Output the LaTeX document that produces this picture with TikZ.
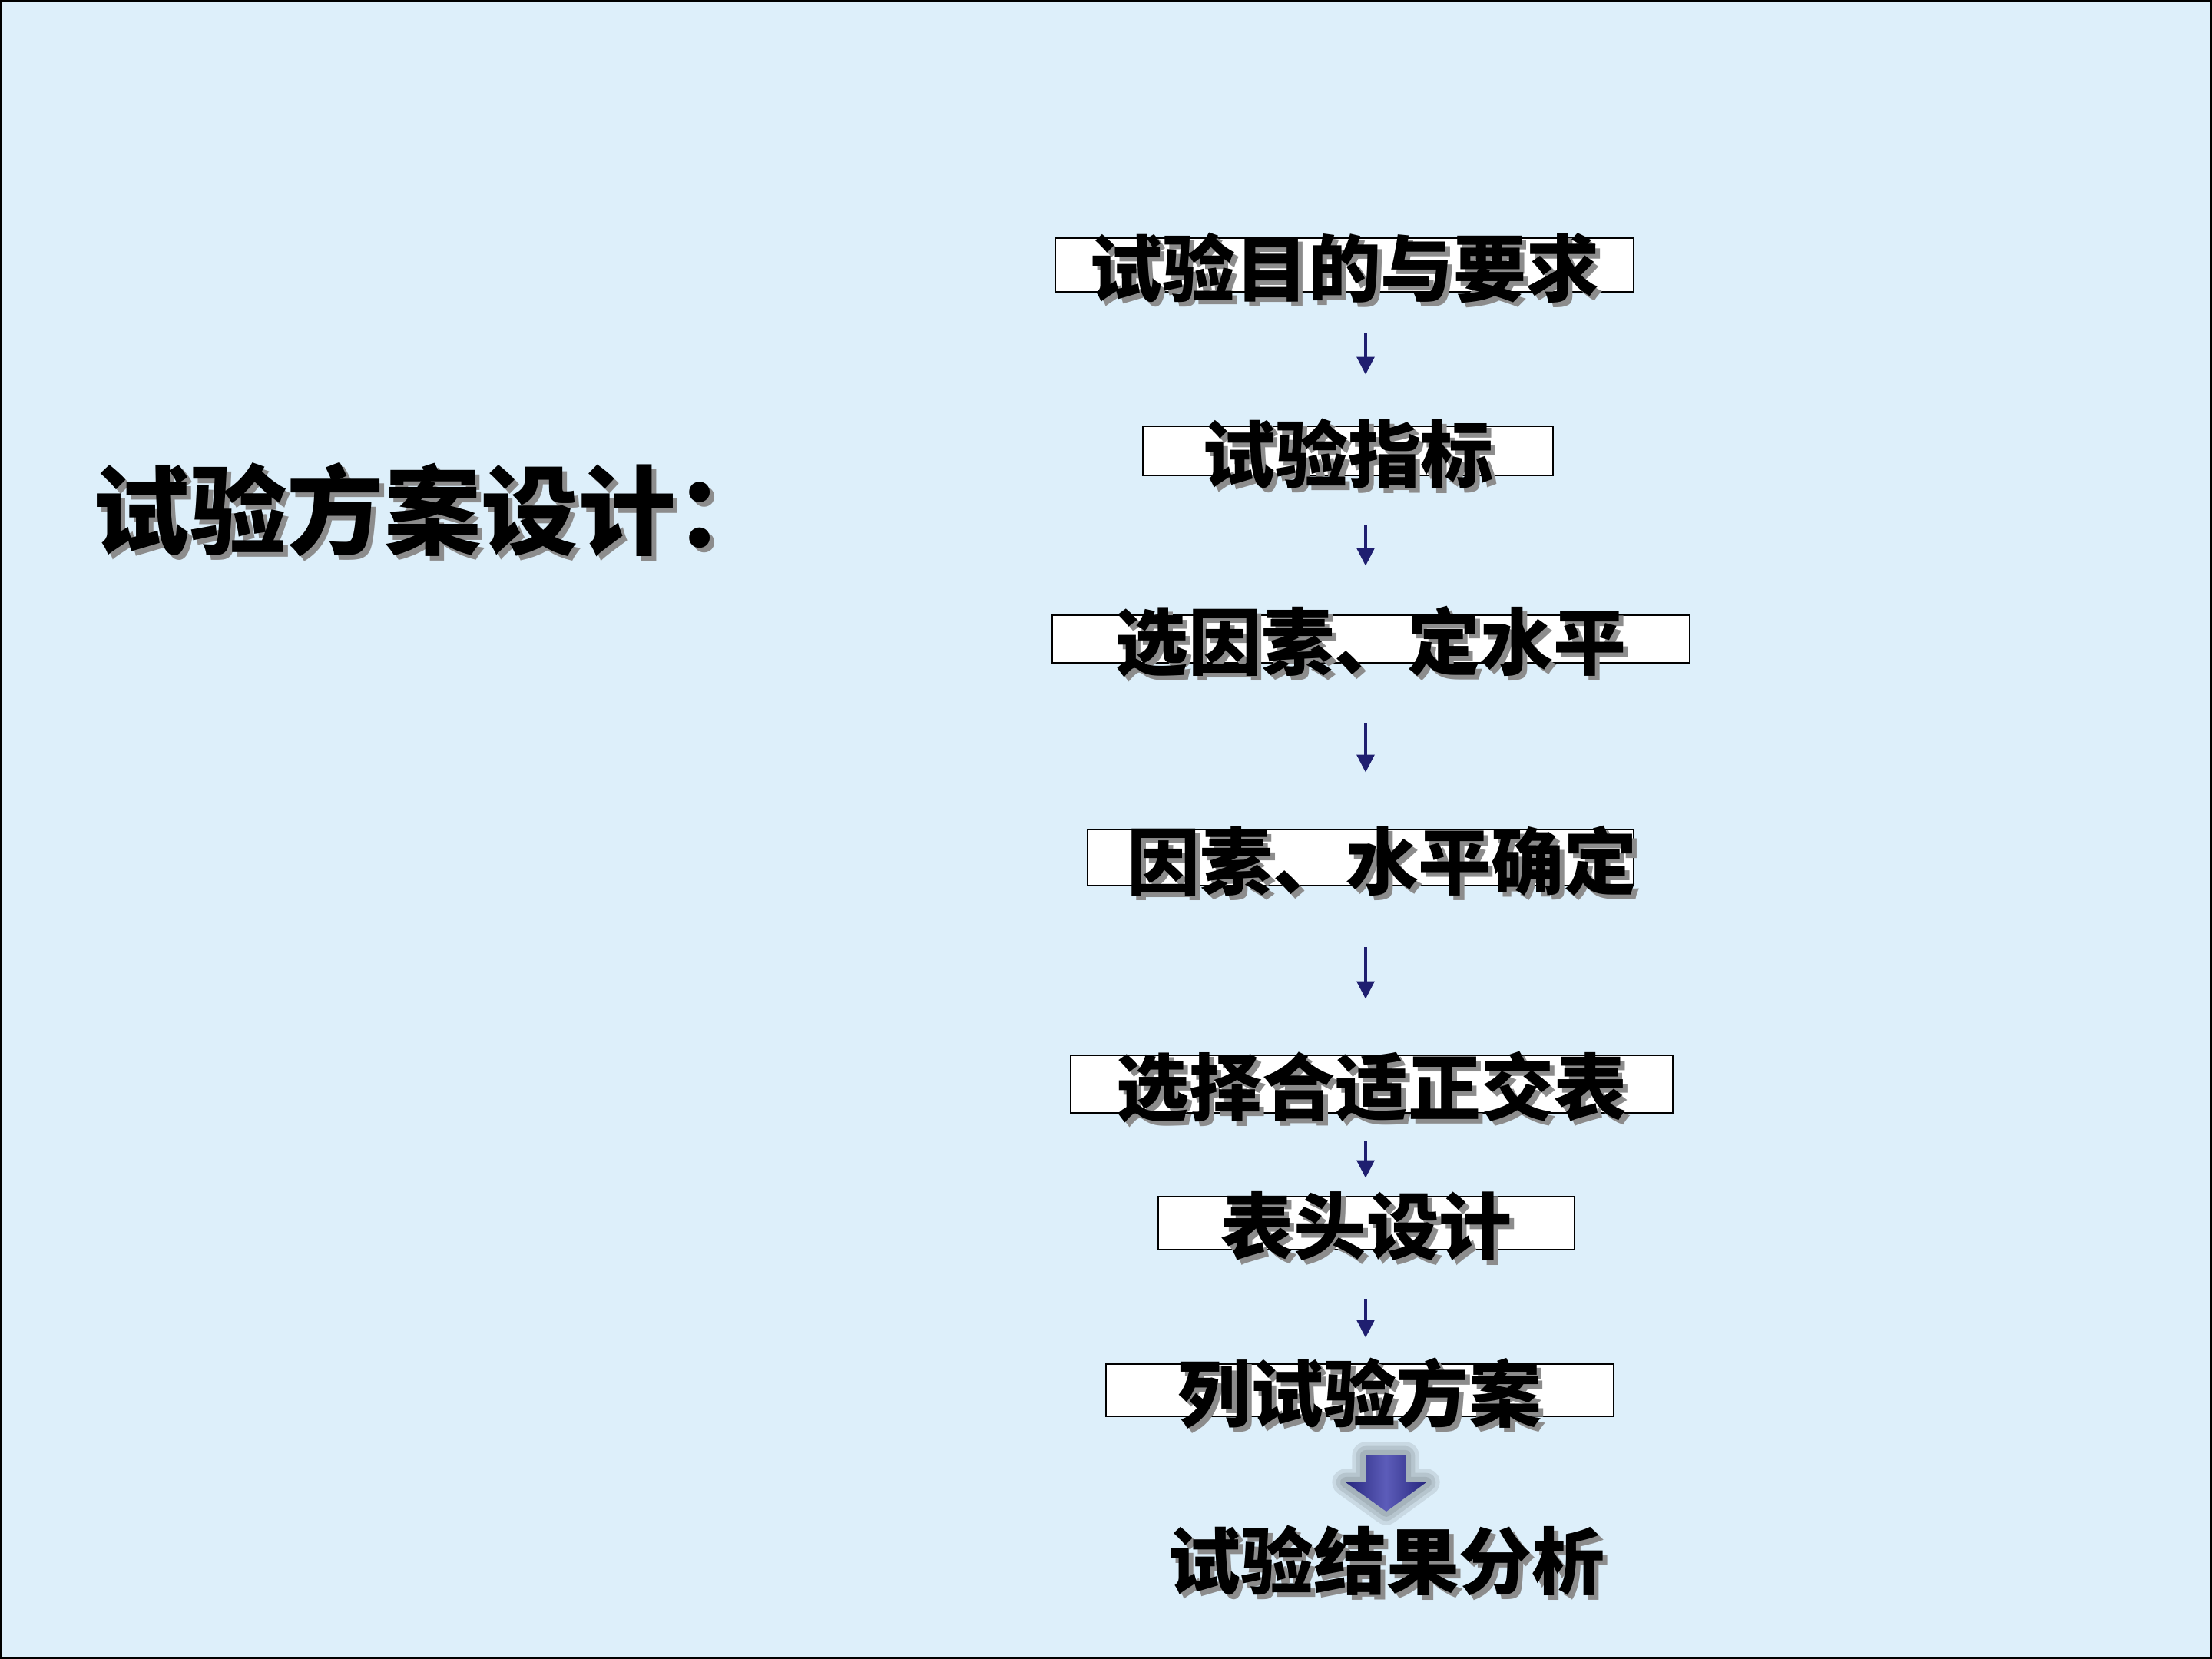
\documentclass[tikz,border=0pt]{standalone}
\usepackage{fontspec}
\usepackage{tikz}
\usetikzlibrary{arrows.meta,calc}
\newfontfamily\cjk{Noto Sans CJK SC}
\definecolor{slidebg}{RGB}{221,239,250}
\definecolor{arrownavy}{RGB}{31,31,112}
\definecolor{bigblue}{RGB}{52,52,168}
\def\shadowtext#1{\makebox[0pt][l]{\raisebox{-0.06cm}{\hspace{0.06cm}\textcolor{black!45}{#1}}}#1}
\def\bigarrowpath{(17.78,2.65) -- (18.30,2.65) -- (18.30,2.30) -- (18.57,2.30) -- (18.05,1.92) -- (17.52,2.30) -- (17.78,2.30) -- cycle}
\tikzset{
	stepbox/.style={draw=black, fill=white, line width=0.8pt, inner sep=0pt},
	steptext/.style={font=\cjk\bfseries\fontsize{27}{30}\selectfont, inner sep=0pt},
	flowarrow/.style={draw=arrownavy, line width=0.9pt, -{Triangle[width=0.23cm,length=0.23cm]}},
}

\begin{document}
\begin{tikzpicture}
			%%%%% START %%%%%
			\useasboundingbox (0, 0) rectangle (28.8, 21.6);
			\fill[slidebg] (0, 0) rectangle (28.8, 21.6);
			\draw[line width=0.03cm] (0.015, 0.015) rectangle (28.785, 21.585);
			
			\node[steptext, font=\cjk\bfseries\fontsize{36}{40}\selectfont, anchor=west] (title) at (1.2, 14.93) {\shadowtext{试验方案设计：}};
			
			\node[stepbox, minimum width=7.53cm, minimum height=0.70cm] (b1) at (17.505, 18.15) {};
			\node[steptext, yshift=-0.07cm] (t1) at (b1) {\shadowtext{试验目的与要求}};
			
			\node[stepbox, minimum width=5.34cm, minimum height=0.64cm] (b2) at (17.55, 15.73) {};
			\node[steptext, yshift=-0.07cm] (t2) at (b2) {\shadowtext{试验指标}};
			
			\node[stepbox, minimum width=8.30cm, minimum height=0.62cm] (b3) at (17.85, 13.28) {};
			\node[steptext, yshift=-0.07cm] (t3) at (b3) {\shadowtext{选因素、定水平}};
			
			\node[stepbox, minimum width=7.11cm, minimum height=0.73cm] (b4) at (17.715, 10.435) {};
			\node[steptext, xshift=0.28cm, yshift=-0.07cm] (t4) at (b4) {\shadowtext{因素、水平确定}};
			
			\node[stepbox, minimum width=7.84cm, minimum height=0.75cm] (b5) at (17.86, 7.485) {};
			\node[steptext, yshift=-0.07cm] (t5) at (b5) {\shadowtext{选择合适正交表}};
			
			\node[stepbox, minimum width=5.42cm, minimum height=0.69cm] (b6) at (17.79, 5.675) {};
			\node[steptext, yshift=-0.07cm] (t6) at (b6) {\shadowtext{表头设计}};
			
			\node[stepbox, minimum width=6.61cm, minimum height=0.68cm] (b7) at (17.705, 3.50) {};
			\node[steptext, yshift=-0.07cm] (t7) at (b7) {\shadowtext{列试验方案}};
			
			\coordinate (axis) at (17.78, 0);
			\draw[flowarrow, shorten <=0.53cm, shorten >=0.66cm] (b1.south -| axis) -- (b2.north -| axis);
			\draw[flowarrow, shorten <=0.64cm, shorten >=0.63cm] (b2.south -| axis) -- (b3.north -| axis);
			\draw[flowarrow, shorten <=0.77cm, shorten >=0.73cm] (b3.south -| axis) -- (b4.north -| axis);
			\draw[flowarrow, shorten <=0.79cm, shorten >=0.72cm] (b4.south -| axis) -- (b5.north -| axis);
			\draw[flowarrow, shorten <=0.35cm, shorten >=0.23cm] (b5.south -| axis) -- (b6.north -| axis);
			\draw[flowarrow, shorten <=0.63cm, shorten >=0.33cm] (b6.south -| axis) -- (b7.north -| axis);
			
			% big arrow with a soft halo
			\foreach \w in {10, 7, 4}
				\draw[line width=\w pt, black, opacity=0.09, line join=round] \bigarrowpath;
			\shade[left color=bigblue!75!black, right color=bigblue!75!black, middle color=bigblue!80!white] \bigarrowpath;
			
			\node[steptext] (result) at (18.05, 1.25) {\shadowtext{试验结果分析}};
			%%%%% END %%%%%
\end{tikzpicture}
\end{document}
